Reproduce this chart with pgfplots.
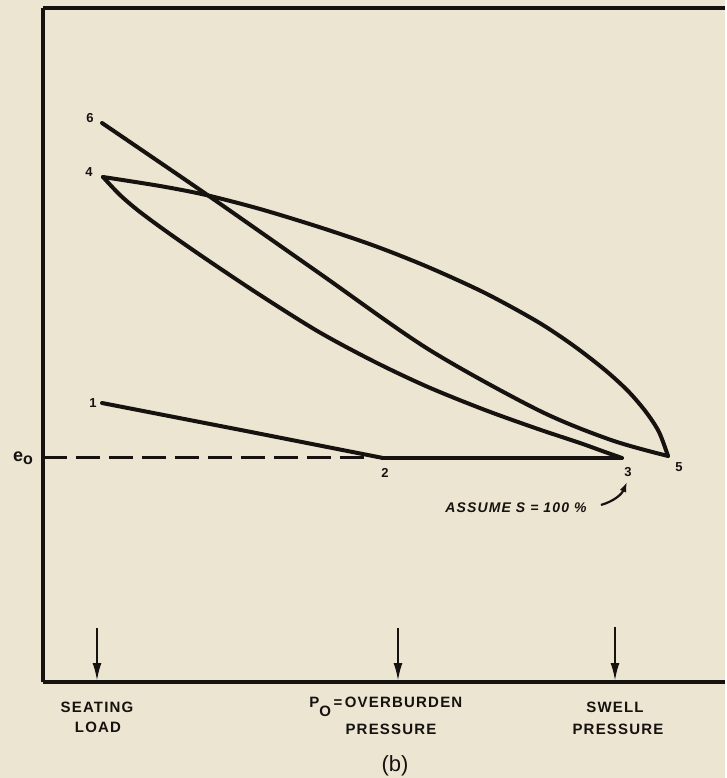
\documentclass[border=0pt]{standalone}
\usepackage{pgfplots}
\pgfplotsset{compat=1.18}
\usepackage{fontspec}
\setmainfont{Liberation Sans}
\newfontfamily\lbl[LetterSpace=8]{Liberation Sans}
\usetikzlibrary{arrows.meta}
\definecolor{paper}{RGB}{236,229,209}
\definecolor{ink}{RGB}{22,18,16}
\begin{document}
\begin{tikzpicture}
\begin{axis}[
  x=0.5pt, y=0.5pt,
  xmin=43, xmax=725, ymin=96, ymax=770,
  axis x line=box, axis y line=left,
  axis line style={-, ink, line width=1.6pt},
  xtick=\empty, ytick=\empty,
  clip=false, axis on top,
]
\fill[paper] (axis cs:0,0) rectangle (axis cs:725,778);
% 6 -> 5
\addplot[ink, line width=2pt, smooth, tension=0.5, line cap=round] coordinates {
 (102,655) (206,584) (319,505) (428,429) (538,368) (611,338) (668,322)};
% 4 -> 5 (upper arc)
\addplot[ink, line width=2pt, smooth, tension=0.5, line cap=round, line join=round] coordinates {
 (103,601) (160,592) (206,583) (260,569) (319,551) (375,532) (428,511) (485,485) (538,456) (574,432) (605,408) (628,387) (646,366) (659,346) (668,322)};
% 4 -> 3 (lower arc)
\addplot[ink, line width=2pt, smooth, tension=0.5, line cap=round, line join=round] coordinates {
 (103,601) (120,583) (140,566) (170,544) (209,517) (260,483) (319,446) (375,416) (428,391) (485,368) (538,349) (580,335) (605,326) (622,320)};
% 1 -> 2
\addplot[ink, line width=2pt, line cap=round] coordinates {(102,375) (246,347) (383,320)};
% 2 -> 3
\addplot[ink, line width=2pt] coordinates {(381,320) (622,320)};
% e0 dashed
\addplot[ink, line width=1.5pt, dash pattern=on 12pt off 4.5pt] coordinates {(43,320) (372,320)};
% arrows for pressures
\addplot[ink, line width=1.1pt, -{Latex[length=9pt,width=4.5pt]}] coordinates {(97,150) (97,97)};
\addplot[ink, line width=1.1pt, -{Latex[length=9pt,width=4.5pt]}] coordinates {(398,150) (398,97)};
\addplot[ink, line width=1.1pt, -{Latex[length=9pt,width=4.5pt]}] coordinates {(615,151) (615,97)};
% curved arrow to 3
\draw[ink, line width=1.1pt, -{Latex[length=5pt,width=3.5pt]}] (axis cs:601,273) to[bend right=25] (axis cs:627,296);
% point labels
\begin{scope}[every node/.style={font=\lbl\bfseries\fontsize{6.5}{7}\selectfont, text=ink, inner sep=0pt}]
\node at (axis cs:90,660) {6};
\node at (axis cs:89,606) {4};
\node at (axis cs:93,375) {1};
\node at (axis cs:385,305) {2};
\node at (axis cs:628,306) {3};
\node at (axis cs:679,311) {5};
\end{scope}
\node[text=ink, inner sep=0pt, font=\bfseries\fontsize{9}{10}\selectfont] at (axis cs:23,320) {e\raisebox{-0.35ex}{\fontsize{8}{9}\selectfont o}};
\node[text=ink, inner sep=0pt, font=\lbl\bfseries\itshape\fontsize{7}{8}\selectfont] at (axis cs:516,270) {ASSUME S = 100 \%};
% bottom labels
\begin{scope}[every node/.style={font=\lbl\bfseries\fontsize{7.5}{8}\selectfont, text=ink, inner sep=0pt}]
\node at (axis cs:97,71) {SEATING};
\node at (axis cs:98,51) {LOAD};
\node[anchor=west] at (axis cs:309,71) {P\raisebox{-1.1ex}{O}\,=\,OVERBURDEN};
\node at (axis cs:391,49) {PRESSURE};
\node at (axis cs:615,71) {SWELL};
\node at (axis cs:618,49) {PRESSURE};
\end{scope}
\node[text=ink, inner sep=0pt, font=\fontsize{11}{12}\selectfont] at (axis cs:395,12) {(b)};
\end{axis}
\end{tikzpicture}
\end{document}
